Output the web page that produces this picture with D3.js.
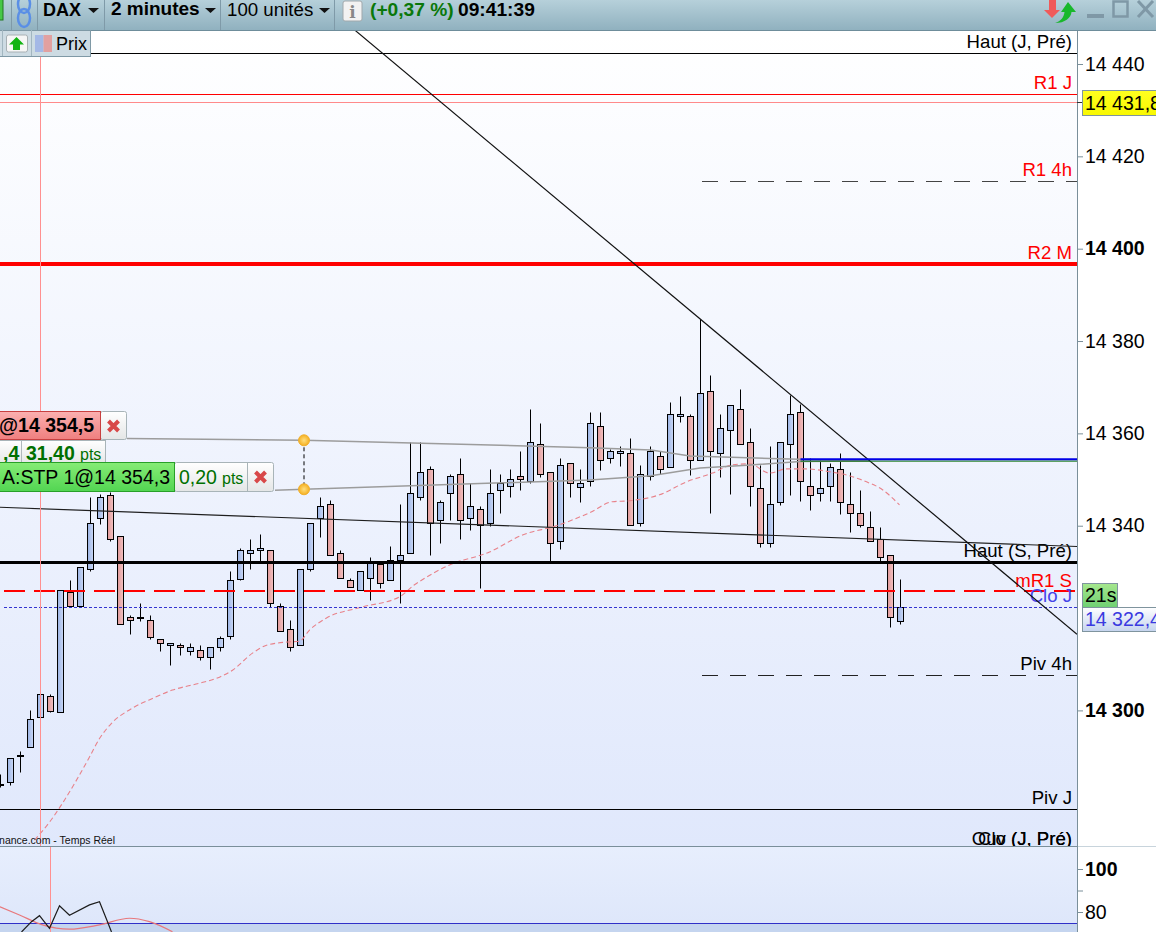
<!DOCTYPE html>
<html>
<head>
<meta charset="utf-8">
<style>
html, body { margin: 0; padding: 0; background: #fff; overflow: hidden; }
svg { display: block; font-family: "Liberation Sans", Arial, sans-serif; }
</style>
<script src="https://cdnjs.cloudflare.com/ajax/libs/d3/7.8.5/d3.min.js"></script>
</head>
<body>
<div id="chart"></div>
<script>
// candles, oldest first
const opens = [14283.8,14284.5,14290.0,14291.9,14298.5,14303.0,14299.6,14325.6,14322.5,14330.5,14341.6,14346.6,14337.7,14320.2,14320.0,14319.5,14315.5,14314.1,14314.1,14312.9,14313.0,14311.4,14313.6,14316.0,14328.5,14334.0,14334.7,14334.7,14322.5,14317.6,14314.1,14330.5,14341.6,14344.6,14334.0,14328.2,14326.0,14328.6,14331.7,14328.2,14332.6,14334.0,14346.2,14352.2,14341.2,14347.0,14351.1,14341.6,14343.6,14340.5,14347.7,14348.6,14350.7,14349.6,14357.6,14351.5,14336.6,14353.5,14348.4,14349.6,14361.5,14354.6,14355.7,14355.7,14340.5,14350.7,14355.0,14352.6,14363.7,14363.7,14354.1,14369.1,14355.7,14360.7,14365.2,14358.1,14348.1,14336.1,14345.1,14357.6,14364.5,14348.6,14347.0,14348.6,14352.2,14344.6,14342.7,14339.7,14337.1,14333.6,14319.2]
const highs = [14286.2,14289.6,14291.1,14300.1,14303.5,14303.5,14326.0,14328.2,14331.0,14346.2,14346.7,14347.2,14337.7,14320.6,14323.3,14320.6,14315.5,14314.5,14314.6,14314.6,14314.1,14313.6,14316.1,14330.1,14335.2,14337.1,14338.2,14334.7,14323.2,14319.6,14330.6,14340.5,14346.2,14345.6,14334.7,14328.7,14330.2,14333.2,14331.7,14335.6,14344.7,14358.0,14358.0,14352.8,14345.6,14351.2,14354.6,14349.2,14344.2,14352.3,14351.2,14352.3,14356.1,14365.2,14362.1,14351.5,14354.6,14353.5,14352.3,14364.5,14364.5,14356.5,14357.2,14359.0,14353.1,14357.3,14356.1,14366.7,14368.1,14364.1,14384.7,14372.6,14364.2,14366.1,14369.5,14361.2,14353.0,14357.3,14358.1,14368.2,14366.2,14354.6,14354.2,14353.5,14355.7,14351.5,14347.6,14343.1,14339.7,14333.6,14328.5]
const lows = [14283.4,14283.8,14286.5,14291.9,14297.5,14299.5,14299.6,14322.5,14322.5,14330.1,14340.4,14336.6,14318.6,14316.4,14319.4,14315.5,14312.9,14309.8,14312.0,14312.0,14310.9,14308.9,14312.9,14315.5,14328.1,14330.5,14332.2,14322.3,14317.1,14312.9,14314.1,14330.1,14337.5,14333.6,14328.6,14326.7,14326.0,14323.9,14326.5,14328.2,14323.2,14334.0,14345.4,14333.6,14336.1,14341.1,14337.0,14339.0,14326.5,14339.9,14342.6,14346.1,14347.6,14349.2,14350.5,14332.2,14335.0,14346.1,14345.0,14348.5,14352.0,14353.5,14352.9,14340.1,14339.9,14349.9,14351.1,14352.6,14362.5,14351.0,14354.1,14342.7,14350.5,14346.9,14357.6,14344.1,14335.4,14335.4,14344.5,14346.5,14345.3,14343.4,14345.3,14345.3,14342.5,14338.5,14339.7,14336.6,14332.2,14317.9,14318.7]
const closes = [14284.0,14289.6,14290.2,14298.0,14303.5,14299.9,14326.0,14322.5,14331.0,14340.5,14346.2,14337.1,14318.6,14319.5,14320.2,14315.9,14314.5,14314.5,14313.6,14313.6,14311.4,14313.6,14315.6,14328.2,14334.7,14334.7,14335.1,14323.2,14317.1,14313.6,14330.6,14340.5,14344.2,14333.6,14328.6,14326.7,14330.2,14331.9,14327.5,14332.5,14333.6,14347.0,14351.5,14340.5,14345.1,14350.7,14341.2,14344.2,14340.1,14347.0,14349.2,14350.1,14350.1,14358.1,14351.1,14336.1,14353.0,14349.2,14349.2,14362.1,14354.1,14356.1,14356.1,14340.1,14351.1,14356.1,14352.2,14364.1,14364.1,14354.1,14368.6,14356.1,14361.1,14366.1,14357.6,14348.6,14336.1,14344.6,14358.1,14364.1,14349.6,14346.6,14348.1,14352.6,14345.1,14342.7,14340.1,14336.6,14333.2,14320.2,14322.4]

// horizontal levels
const levelNames = ['Haut (J, Pré)', 'R1 J', 'R1 4h', 'R2 M', 'Haut (S, Pré)', 'mR1 S', 'Piv 4h', 'Piv J', 'Clo (J, Pré)', 'Ouv (J, Pré)']
const levelValues = [14442.3, 14433.4, 14414.7, 14396.7, 14332.0, 14325.9, 14307.7, 14278.5, 14270.2, 14270.2]
const lastPrice = 14322.4
const bidPrice = 14431.8
const breakoutLevel = 14354.4
const breakoutStop = 14354.1
const breakoutStart = 80

// moving average, read at candle positions
const maIndex = [3.4,4.9,6.2,7.6,8.9,9.9,11.1,13.2,15.2,17.2,19.9,21.9,23.2,25.2,26.6,28.6,29.9,30.9,32.6,36.2,39.9,41.4,42.1,44.9,48.9,52.2,55.6,58.9,61.2,62.9,65.9,68.6,71.2,73.2,74.9,76.9,78.6,80.6,82.9,84.6,86.6,88.2,89.9]
const maValues = [14271.9,14275.8,14279.9,14284.9,14289.9,14293.9,14297.2,14300.5,14302.6,14304.4,14305.9,14307.2,14308.7,14312.4,14314.1,14314.8,14315.0,14317.4,14320.0,14322.4,14324.6,14327.2,14328.2,14331.5,14334.3,14338.0,14340.0,14342.8,14345.2,14345.4,14346.7,14349.5,14351.4,14353.2,14353.4,14351.4,14352.3,14352.3,14351.7,14351.0,14349.5,14347.8,14344.5]

// drawn trend lines
const diagIndex = [35.4, 107.65]
const diagValues = [14447.4, 14316.5]
const slopeIndex = [-0.1, 107.65]
const slopeValues = [14344.0, 14335.5]
const upperIndex = [12.65, 30.35, 58.95, 65.05, 68.95, 76.95, 86.95]
const upperValues = [14358.9, 14358.5, 14356.9, 14356.4, 14355.1, 14354.55, 14354.0]
const lowerIndex = [27.45, 30.35, 58.95, 65.05, 69.95, 74.65, 79.95, 86.95]
const lowerValues = [14347.7, 14347.9, 14349.9, 14350.8, 14352.5, 14353.1, 14353.9, 14354.0]
const handleIndex = 30.35
const handleValues = [14358.5, 14347.9]

// axis
const priceTicks = [14440, 14420, 14400, 14380, 14360, 14340, 14300]
const boldPriceTicks = [14400, 14300]
const oscTicks = [100, 90, 80]
const oscLabels = { 100: '100', 80: '80' }

// oscillator
const oscIndex = [2.1, 3.1, 3.9, 4.9, 5.9, 6.9, 8.9, 9.9, 10.7, 11.1]
const oscValues = [70.7, 75.5, 78.3, 72.4, 82.9, 78.5, 83.3, 84.8, 75.5, 70.7]
const signalIndex = [-0.1, 1.9, 4.2, 6.9, 9.9, 12.9, 14.9, 17.2]
const signalValues = [82.5, 78.6, 74.0, 72.0, 74.0, 77.1, 75.5, 70.8]
const oscBand = 74.6

const width = 1156
const height = 932
const plotRight = 1077
const plotTop = 30
const plotBottom = 847

const xs = d3.scaleLinear().domain([0, 90]).range([0.5, 900.5])
const ys = d3.scaleLinear().domain([14440, 14300]).range([64, 710.4])
const ysOsc = d3.scaleLinear().domain([100, 80]).range([869, 912])

const fmtPrice = (d) => d3.format('d')(d).replace(/(\d{2})(\d{3})/, '$1 $2')

const svg = d3.select('#chart').append('svg')
  .attr('width', width)
  .attr('height', height)

const defs = svg.append('defs')
function vGrad (id, a, b) {
  let g = defs.append('linearGradient').attr('id', id)
    .attr('x1', 0).attr('y1', 0).attr('x2', 0).attr('y2', 1)
  g.append('stop').attr('offset', 0).attr('stop-color', a)
  g.append('stop').attr('offset', 1).attr('stop-color', b)
}
function hGrad (id, a, b) {
  let g = defs.append('linearGradient').attr('id', id)
    .attr('x1', 0).attr('y1', 0).attr('x2', 1).attr('y2', 0)
  g.append('stop').attr('offset', 0).attr('stop-color', a)
  g.append('stop').attr('offset', 1).attr('stop-color', b)
}
vGrad('bgMain', '#ffffff', '#e0e8fc')
vGrad('bgOsc', '#e7eefd', '#dde6fa')
vGrad('bgBar', '#b6d0da', '#90b1bf')
vGrad('bgRed', '#fbb0b0', '#ef7f7f')
vGrad('bgGreen', '#86ec76', '#52d552')
vGrad('bgGrey', '#ffffff', '#e4e6e6')
vGrad('bgTimer', '#a6e78e', '#6fd072')
vGrad('bgLast', '#ffffff', '#c4d4ee')
vGrad('bgYellow', '#ffff20', '#f8f800')
hGrad('candleUp', '#9bb3e4', '#cad8f6')
hGrad('candleDown', '#e09898', '#f3c2c2')
let halo = defs.append('radialGradient').attr('id', 'handle')
halo.append('stop').attr('offset', 0).attr('stop-color', '#ffdf80')
halo.append('stop').attr('offset', 1).attr('stop-color', '#f5b020')

defs.append('clipPath').attr('id', 'clipMain').append('rect')
  .attr('x', 0).attr('y', plotTop).attr('width', plotRight).attr('height', plotBottom - plotTop)
defs.append('clipPath').attr('id', 'clipOsc').append('rect')
  .attr('x', 0).attr('y', plotBottom).attr('width', plotRight).attr('height', height - plotBottom)

// backgrounds
svg.append('rect').attr('x', 0).attr('y', plotTop).attr('width', plotRight)
  .attr('height', plotBottom - plotTop).attr('fill', 'url(#bgMain)')
svg.append('rect').attr('x', 0).attr('y', plotBottom).attr('width', plotRight)
  .attr('height', height - plotBottom).attr('fill', 'url(#bgOsc)')
svg.append('rect').attr('x', 0).attr('y', ysOsc(oscBand)).attr('width', plotRight)
  .attr('height', height - ysOsc(oscBand)).attr('fill', '#c5d5ef')

const main = svg.append('g').attr('clip-path', 'url(#clipMain)')

// candles
const candles = opens.map((o, i) => ({i, o, h: highs[i], l: lows[i], c: closes[i]}))
const crisp = (y) => Math.floor(y + 0.2) + 0.5
main.selectAll('.wick')
  .data(candles)
  .enter()
  .append('line')
  .attr('class', 'wick')
  .attr('x1', (d) => xs(d.i))
  .attr('x2', (d) => xs(d.i))
  .attr('y1', (d) => crisp(ys(d.h)))
  .attr('y2', (d) => crisp(ys(d.l)))
  .attr('stroke', '#000')
main.selectAll('.body')
  .data(candles)
  .enter()
  .append('rect')
  .attr('class', 'body')
  .attr('x', (d) => xs(d.i) - 3)
  .attr('y', (d) => crisp(ys(Math.max(d.o, d.c))))
  .attr('width', 6)
  .attr('height', (d) => Math.max(1, crisp(ys(Math.min(d.o, d.c))) - crisp(ys(Math.max(d.o, d.c)))))
  .attr('fill', (d) => d.c >= d.o ? 'url(#candleUp)' : 'url(#candleDown)')
  .attr('stroke', '#000')

// moving average
const line = d3.line().x((d) => xs(d[0])).y((d) => ys(d[1]))
main.append('path')
  .datum(maIndex.map((x, i) => [x, maValues[i]]))
  .attr('d', line.curve(d3.curveMonotoneX))
  .attr('fill', 'none')
  .attr('stroke', '#e8828a')
  .attr('stroke-width', 1.1)
  .attr('stroke-dasharray', '5 3')
line.curve(d3.curveLinear)

// horizontal levels
const levelStyle = {
  'Haut (J, Pré)': {color: '#000', width: 1, dy: 5.5},
  'R1 J': {color: '#ff0000', width: 1, text: '#ff0000', dy: 5.5},
  'R1 4h': {color: '#444', width: 1, dash: '16 12', from: 70.15, text: '#ff0000', dy: 5.5},
  'R2 M': {color: '#ff0000', width: 4, text: '#ff0000', dy: 5},
  'Haut (S, Pré)': {color: '#000', width: 3, dy: 5.5},
  'mR1 S': {color: '#ff0000', width: 2, dash: '21 9', from: 0.35, text: '#ff0000', dy: 4},
  'Piv 4h': {color: '#222', width: 1, dash: '16 12', from: 70.15, dy: 5.5},
  'Piv J': {color: '#000', width: 1, dy: 5.5},
  'Clo (J, Pré)': {color: 'none', width: 0, dy: 3.5},
  'Ouv (J, Pré)': {color: 'none', width: 0, dy: 3.5}
}
levelNames.forEach((name, i) => {
  let st = levelStyle[name]
  let y = st.width % 2 ? crisp(ys(levelValues[i])) : Math.round(ys(levelValues[i]))
  main.append('path')
    .attr('d', `M${xs(st.from || -0.05)},${y}H${plotRight}`)
    .attr('stroke', st.color)
    .attr('stroke-width', st.width)
    .attr('stroke-dasharray', st.dash || null)
  main.append('text')
    .attr('x', plotRight - 5)
    .attr('y', y - st.dy)
    .attr('text-anchor', 'end')
    .attr('font-size', 18.6)
    .attr('fill', st.text || '#000')
    .text(name)
})

// last price and bid lines
main.append('path')
  .attr('d', `M4,${crisp(ys(lastPrice))}H${plotRight}`)
  .attr('stroke', '#3434d0')
  .attr('stroke-dasharray', '3 2')
main.append('text')
  .attr('x', plotRight - 5)
  .attr('y', 602)
  .attr('text-anchor', 'end')
  .attr('font-size', 18.6)
  .attr('fill', '#4444e8')
  .text('Clo J')
main.append('path')
  .attr('d', `M0,${crisp(ys(bidPrice))}H${plotRight}`)
  .attr('stroke', '#ff8a8a')

// trend lines
main.append('path')
  .datum(upperIndex.map((x, i) => [x, upperValues[i]]))
  .attr('d', line)
  .attr('fill', 'none')
  .attr('stroke', '#9c9c9c')
  .attr('stroke-width', 1.5)
main.append('path')
  .datum(lowerIndex.map((x, i) => [x, lowerValues[i]]))
  .attr('d', line)
  .attr('fill', 'none')
  .attr('stroke', '#9c9c9c')
  .attr('stroke-width', 1.5)
main.append('path')
  .datum(slopeIndex.map((x, i) => [x, slopeValues[i]]))
  .attr('d', line)
  .attr('fill', 'none')
  .attr('stroke', '#1e1e1e')
  .attr('stroke-width', 1.2)
main.append('path')
  .datum(diagIndex.map((x, i) => [x, diagValues[i]]))
  .attr('d', line)
  .attr('fill', 'none')
  .attr('stroke', '#111')
  .attr('stroke-width', 1.2)

// breakout order lines
main.append('path')
  .attr('d', `M${xs(breakoutStart)},${ys(breakoutStop) + 0.5}H${plotRight}`)
  .attr('stroke', '#007000')
main.append('path')
  .attr('d', `M${xs(breakoutStart)},${ys(breakoutLevel)}H${plotRight}`)
  .attr('stroke', '#0000e6')
  .attr('stroke-width', 2)

// cursor
main.append('path')
  .attr('d', `M40.5,${plotTop}V${plotBottom}`)
  .attr('stroke', '#ff9090')

// source credit
main.append('text')
  .attr('x', 115)
  .attr('y', 844)
  .attr('text-anchor', 'end')
  .attr('font-size', 10.5)
  .attr('fill', '#111')
  .text('nance.com - Temps Réel')

// handles
main.append('path')
  .attr('d', `M${xs(handleIndex)},${ys(handleValues[0])}V${ys(handleValues[1])}`)
  .attr('stroke', '#000')
  .attr('stroke-dasharray', '4 3')
main.selectAll('.handle')
  .data(handleValues)
  .enter()
  .append('circle')
  .attr('class', 'handle')
  .attr('cx', xs(handleIndex))
  .attr('cy', (d) => ys(d))
  .attr('r', 5.5)
  .attr('fill', 'url(#handle)')
  .attr('stroke', '#f0b030')

// order tags
function cross (g, cx, cy) {
  g.append('path')
    .attr('d', `M${cx - 5},${cy - 5}L${cx + 5},${cy + 5}M${cx + 5},${cy - 5}L${cx - 5},${cy + 5}`)
    .attr('stroke', '#d84848')
    .attr('stroke-width', 4)
}
const tags = svg.append('g').attr('font-size', 19.5)
tags.append('rect').attr('x', -5).attr('y', 440.5).attr('width', 110.5).attr('height', 24)
  .attr('fill', 'url(#bgGrey)').attr('stroke', '#a8b4b8')
tags.append('path').attr('d', 'M21.5,441V463').attr('stroke', '#b0b8bc')
tags.append('text').attr('x', 3).attr('y', 460).attr('font-weight', 'bold').attr('fill', '#007000').text(',4')
tags.append('text').attr('x', 26).attr('y', 460).attr('font-weight', 'bold').attr('fill', '#007000').text('31,40')
tags.append('text').attr('x', 80).attr('y', 460).attr('font-size', 16).attr('fill', '#007000').text('pts')

tags.append('rect').attr('x', 100.5).attr('y', 411.5).attr('width', 26).attr('height', 28).attr('rx', 2)
  .attr('fill', 'url(#bgGrey)').attr('stroke', '#a8b4b8')
tags.append('rect').attr('x', -5).attr('y', 411.5).attr('width', 105.5).attr('height', 28)
  .attr('fill', 'url(#bgRed)').attr('stroke', '#c84040')
tags.append('text').attr('x', 94).attr('y', 432).attr('text-anchor', 'end').attr('font-weight', 'bold').text('@14 354,5')
cross(tags, 113.5, 426)

tags.append('rect').attr('x', 174.5).attr('y', 462.5).attr('width', 99).attr('height', 29).attr('rx', 2)
  .attr('fill', 'url(#bgGrey)').attr('stroke', '#a8b4b8')
tags.append('path').attr('d', 'M247.5,463V491').attr('stroke', '#a8b4b8')
tags.append('rect').attr('x', -5).attr('y', 462.5).attr('width', 179.5).attr('height', 29)
  .attr('fill', 'url(#bgGreen)').attr('stroke', '#28a028')
tags.append('text').attr('x', 170).attr('y', 484).attr('text-anchor', 'end').text('A:STP 1@14 354,3')
tags.append('text').attr('x', 179).attr('y', 484).attr('fill', '#007000').text('0,20')
tags.append('text').attr('x', 222).attr('y', 484).attr('font-size', 16).attr('fill', '#007000').text('pts')
cross(tags, 260.5, 477)

// oscillator panel
const osc = svg.append('g').attr('clip-path', 'url(#clipOsc)')
osc.append('path')
  .attr('d', `M0,${Math.floor(ysOsc(oscBand)) + 0.5}H${plotRight}`)
  .attr('stroke', '#3030c8')
  .attr('stroke-width', 1)
osc.append('path')
  .attr('d', `M50.5,${plotBottom}V${height}`)
  .attr('stroke', '#ff9090')
const lineOsc = d3.line().x((d) => xs(d[0])).y((d) => ysOsc(d[1]))
osc.append('path')
  .datum(signalIndex.map((x, i) => [x, signalValues[i]]))
  .attr('d', lineOsc.curve(d3.curveMonotoneX))
  .attr('fill', 'none')
  .attr('stroke', '#e8787c')
  .attr('stroke-width', 1.2)
lineOsc.curve(d3.curveLinear)
osc.append('path')
  .datum(oscIndex.map((x, i) => [x, oscValues[i]]))
  .attr('d', lineOsc)
  .attr('fill', 'none')
  .attr('stroke', '#1c1c1c')
  .attr('stroke-width', 1.2)

// axes
const axisPrice = svg.append('g')
  .attr('transform', `translate(${plotRight},0)`)
  .call(d3.axisRight(ys).tickValues(priceTicks).tickFormat(fmtPrice).tickSize(6).tickPadding(2))
  .call((g) => g.select('.domain').remove())
axisPrice.selectAll('text')
  .attr('font-family', '"Liberation Sans", Arial, sans-serif')
  .attr('font-size', 19.5)
  .attr('fill', '#000')
  .attr('font-weight', (d) => boldPriceTicks.includes(d) ? 'bold' : null)
axisPrice.selectAll('line').attr('stroke', '#7a8f9a')

const axisOsc = svg.append('g')
  .attr('transform', `translate(${plotRight},0)`)
  .call(d3.axisRight(ysOsc).tickValues(oscTicks).tickFormat((d) => oscLabels[d] || '').tickSize(6).tickPadding(2))
  .call((g) => g.select('.domain').remove())
axisOsc.selectAll('text')
  .attr('font-family', '"Liberation Sans", Arial, sans-serif')
  .attr('font-size', 19.5)
  .attr('fill', '#000')
  .attr('font-weight', (d) => d === 100 ? 'bold' : null)
axisOsc.selectAll('line').attr('stroke', '#7a8f9a')

svg.append('path').attr('d', `M0,${plotBottom - 0.5}H${plotRight}`).attr('stroke', '#7a8f9a')
svg.append('path').attr('d', `M${plotRight},${plotBottom - 0.5}H${width}`).attr('stroke', '#c8d4dc')
svg.append('path').attr('d', `M${plotRight + 0.5},${plotTop}V${height}`).attr('stroke', '#7a8f9a')

// tick on the bid label
svg.append('path').attr('d', `M${plotRight},${crisp(ys(bidPrice))}h6`).attr('stroke', '#333')

// price boxes
function priceBox (y0, h, w, fill, label, color) {
  svg.append('rect').attr('x', 1082.5).attr('y', y0).attr('width', w).attr('height', h)
    .attr('fill', fill).attr('stroke', '#7f949e')
  svg.append('text').attr('x', 1085).attr('y', y0 + h - 6).attr('font-size', 19.5)
    .attr('fill', color).text(label)
}
priceBox(90.5, 25, 80, 'url(#bgYellow)', '14 431,8', '#000')
priceBox(607.5, 24, 80, 'url(#bgLast)', '14 322,4', '#3a3ae0')
priceBox(583.5, 24, 35, 'url(#bgTimer)', '21s', '#000')

// top bar
svg.append('rect').attr('x', 0).attr('y', 0).attr('width', width).attr('height', plotTop)
  .attr('fill', 'url(#bgBar)')
svg.append('path').attr('d', `M0,${plotTop + 0.5}H${width}`).attr('stroke', '#6e8d9b').attr('stroke-width', 1)
;[11, 37, 104, 220, 334].forEach((x) => {
  svg.append('path').attr('d', `M${x + 0.5},0V${plotTop}`).attr('stroke', '#7f9aa8')
})
svg.append('rect').attr('x', -4).attr('y', -3).attr('width', 7).attr('height', 23)
  .attr('fill', '#46c846').attr('stroke', '#207820')

// chain icon
svg.append('g').attr('fill', 'none').attr('stroke', '#5a8fe6').attr('stroke-width', 2.5)
  .call((g) => {
    g.append('ellipse').attr('cx', 24).attr('cy', 4).attr('rx', 6).attr('ry', 9)
    g.append('ellipse').attr('cx', 24).attr('cy', 18).attr('rx', 6).attr('ry', 9)
  })

const bar = svg.append('g').attr('font-size', 18)
bar.append('text').attr('x', 43).attr('y', 16).attr('font-weight', 'bold').text('DAX')
bar.append('text').attr('x', 111).attr('y', 15).attr('font-size', 19).attr('font-weight', 'bold').text('2 minutes')
bar.append('text').attr('x', 227).attr('y', 16).attr('font-size', 18.7).text('100 unités')
bar.append('text').attr('x', 370).attr('y', 16).attr('font-size', 19.2).attr('font-weight', 'bold').attr('fill', '#0a780a').text('(+0,37 %)')
bar.append('text').attr('x', 458).attr('y', 16).attr('font-size', 19.2).attr('font-weight', 'bold').text('09:41:39')
;[88, 205, 319].forEach((x) => {
  bar.append('path').attr('d', `M${x},8h11l-5.5,5z`).attr('fill', '#111')
})
bar.append('rect').attr('x', 343).attr('y', 1).attr('width', 19).attr('height', 20).attr('rx', 2)
  .attr('fill', '#f2f2f2').attr('stroke', '#a0a8ac')
bar.append('text').attr('x', 352.5).attr('y', 18).attr('text-anchor', 'middle')
  .attr('font-family', '"DejaVu Serif", serif').attr('font-weight', 'bold').attr('font-size', 17)
  .attr('fill', '#888').text('i')

// window buttons
svg.append('path').attr('d', 'M1049,0H1056V10H1060L1052,18L1044,10H1049Z').attr('fill', '#f05a5a')
svg.append('path').attr('d', 'M1068,2L1076,12H1071.5C1071,18 1065,23 1055,23C1061,21 1064,17 1064.5,12H1061Z')
  .attr('fill', '#18b82c')
svg.append('rect').attr('x', 1087).attr('y', 14).attr('width', 17).attr('height', 4).attr('fill', '#7f98a6')
svg.append('rect').attr('x', 1113.5).attr('y', 1.5).attr('width', 14).attr('height', 15).attr('fill', 'none')
  .attr('stroke', '#7f98a6').attr('stroke-width', 2.5)
svg.append('path').attr('d', 'M1138,1L1153,17M1153,1L1138,17').attr('stroke', '#7f98a6').attr('stroke-width', 3)

// legend chip
svg.append('rect').attr('x', -1).attr('y', plotTop + 0.5).attr('width', 91.5).attr('height', 26)
  .attr('fill', '#cddbe3').attr('stroke', '#7f99a6')
svg.append('path').attr('d', `M31.5,${plotTop}V${plotTop + 26}`).attr('stroke', '#a2b6c0')
svg.append('path').attr('d', `M2.5,${plotTop}V${plotTop + 26}`).attr('stroke', '#a2b6c0')
svg.append('rect').attr('x', 6.5).attr('y', 35).attr('width', 21).attr('height', 17).attr('rx', 2)
  .attr('fill', '#f6f6f6').attr('stroke', '#a8b0b4')
svg.append('path').attr('d', 'M16.5,37L24,44.5H20V50H13V44.5H9Z').attr('fill', '#12b412')
svg.append('rect').attr('x', 35).attr('y', 35).attr('width', 8.5).attr('height', 17).attr('fill', '#a4b8e6')
svg.append('rect').attr('x', 43.5).attr('y', 35).attr('width', 8.5).attr('height', 17).attr('fill', '#e2a0a0')
svg.append('text').attr('x', 56).attr('y', 50).attr('font-size', 18).text('Prix')
</script>
</body>
</html>
